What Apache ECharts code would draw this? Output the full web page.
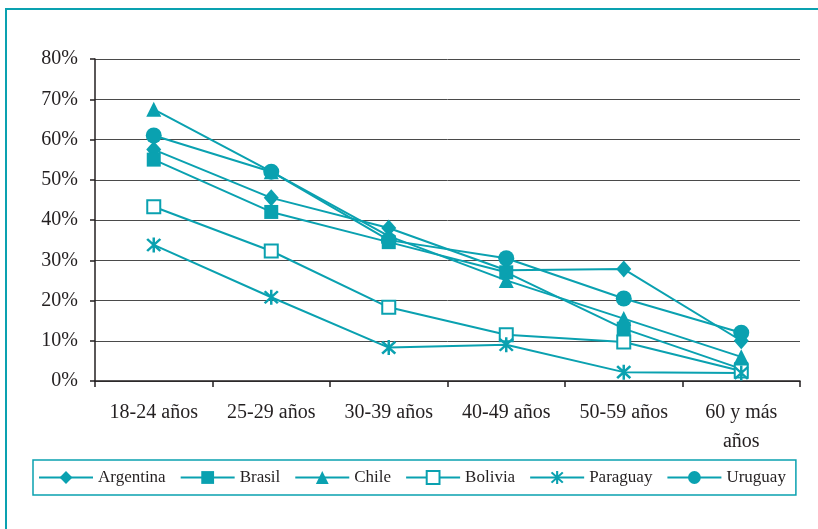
<!DOCTYPE html>
<html>
<head>
<meta charset="utf-8">
<script src="https://cdn.jsdelivr.net/npm/echarts@6/dist/echarts.min.js"></script>
<style>
  html, body { margin: 0; padding: 0; background: #fff; }
  #chart { width: 818px; height: 529px; }
</style>
</head>
<body>
<div id="chart"></div>
<script>
// categorías de edad
const categories = ["18-24 años", "25-29 años", "30-39 años", "40-49 años", "50-59 años", "60 y más años"];
const yTicks = [0, 10, 20, 30, 40, 50, 60, 70, 80];

// porcentajes por país
const argentina = [57.5, 45.5, 38.0, 27.5, 27.8, 10.0];
const brasil    = [55.0, 42.0, 34.5, 27.0, 13.0, 3.0];
const chile     = [67.5, 52.0, 36.0, 25.0, 15.5, 6.0];
const bolivia   = [43.3, 32.3, 18.3, 11.5, 9.7, 2.5];
const paraguay  = [33.8, 20.8, 8.3, 9.0, 2.2, 2.0];
const uruguay   = [61.0, 52.0, 35.0, 30.5, 20.5, 12.0];

const teal = '#0aa1b0';
const font = '"Liberation Serif", "Times New Roman", serif';
// asterisco: barra vertical + dos diagonales (mismo sentido de giro)
const asterisk = 'path://M8.5 0L11.5 0L11.5 20L8.5 20Z M0.9 3.1L3.1 0.9L19.1 16.9L16.9 19.1Z M16.9 0.9L19.1 3.1L3.1 19.1L0.9 16.9Z';

function mkSeries(name, data, symbol, size) {
  return {
    name: name,
    type: 'line',
    data: data,
    symbol: symbol,
    symbolSize: size,
    showAllSymbol: true,
    lineStyle: { color: teal, width: 2 },
    itemStyle: { color: teal, borderColor: teal, borderWidth: symbol === 'emptyRect' ? 2 : 0 },
    emphasis: { disabled: true },
    animation: false
  };
}

const chart = echarts.init(document.getElementById('chart'), null, { renderer: 'canvas' });
chart.setOption({
  backgroundColor: '#fff',
  animation: false,
  textStyle: { fontFamily: font },
  graphic: [{
    type: 'rect',
    shape: { x: 6, y: 9, width: 840, height: 560 },
    style: { fill: 'none', stroke: teal, lineWidth: 2 },
    silent: true
  }],
  grid: { left: 95, right: 18, top: 59, bottom: 148 },
  legend: {
    left: 33,
    top: 460,
    orient: 'horizontal',
    itemWidth: 54,
    itemHeight: 16,
    itemGap: 14,
    padding: [9, 10, 9, 5],
    borderColor: teal,
    borderWidth: 1.5,
    textStyle: { fontFamily: font, fontSize: 17, color: '#231f20' },
    data: ['Argentina', 'Brasil', 'Chile', 'Bolivia', 'Paraguay', 'Uruguay']
  },
  xAxis: {
    type: 'category',
    data: categories,
    boundaryGap: true,
    axisLine: { lineStyle: { color: '#231f20', width: 1.5 } },
    axisTick: { show: true, length: 6, inside: false, lineStyle: { color: '#231f20', width: 1.5 } },
    axisLabel: {
      color: '#231f20',
      fontFamily: font,
      fontSize: 20,
      margin: 17,
      lineHeight: 29,
      interval: 0,
      formatter: v => v === '60 y más años' ? '60 y más\naños' : v
    }
  },
  yAxis: {
    type: 'value',
    min: yTicks[0],
    max: yTicks[yTicks.length - 1],
    interval: 10,
    axisLine: { show: true, lineStyle: { color: '#231f20', width: 1.5 } },
    axisTick: { show: true, length: 5, inside: false, lineStyle: { color: '#231f20', width: 1.5 } },
    axisLabel: { color: '#231f20', fontFamily: font, fontSize: 20, margin: 17, formatter: '{value}%' },
    splitLine: { show: true, lineStyle: { color: '#4a4a4a', width: 1 } }
  },
  series: [
    mkSeries('Argentina', argentina, 'diamond', [15, 17]),
    mkSeries('Brasil', brasil, 'rect', 14),
    mkSeries('Chile', chile, 'triangle', 15),
    mkSeries('Bolivia', bolivia, 'emptyRect', 13),
    mkSeries('Paraguay', paraguay, asterisk, 15),
    mkSeries('Uruguay', uruguay, 'circle', 16)
  ]
});
</script>
</body>
</html>
